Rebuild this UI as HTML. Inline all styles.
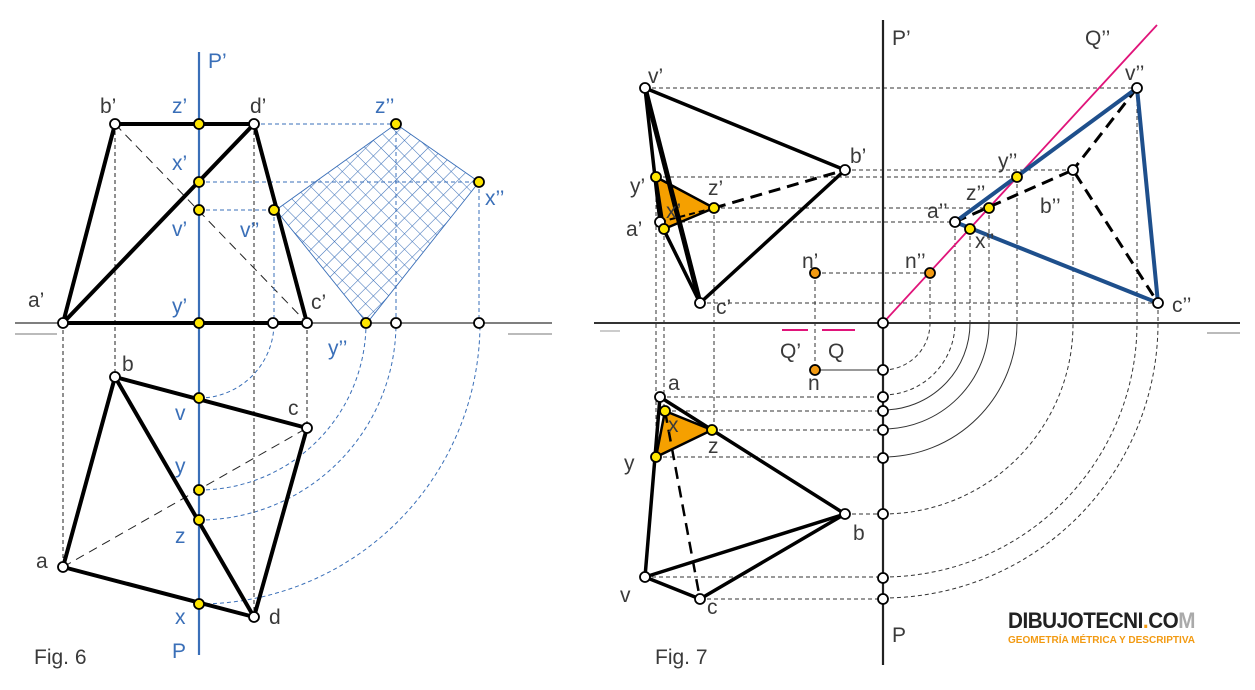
<!DOCTYPE html>
<html><head><meta charset="utf-8"><style>
html,body{margin:0;padding:0;background:#fff}
svg{display:block}
text{font-family:"Liberation Sans",sans-serif;font-weight:300}
.l{fill:#3a3a3a;font-size:21px}
.b{fill:#3a6fb8;font-size:21px}
</style></head><body>
<svg width="1255" height="690" viewBox="0 0 1255 690" xmlns="http://www.w3.org/2000/svg">
<defs>
<pattern id="h" width="11" height="11" patternUnits="userSpaceOnUse" patternTransform="rotate(45)">
<path d="M0 0H11M0 0V11" stroke="#3a6fb8" stroke-width="1.1" fill="none"/>
</pattern>
</defs>

<!-- ===== FIG 6 ===== -->
<line x1="15" y1="323" x2="552" y2="323" stroke="#555" stroke-width="1.5"/>
<line x1="15" y1="334" x2="57" y2="334" stroke="#777" stroke-width="1"/>
<line x1="508" y1="334" x2="552" y2="334" stroke="#777" stroke-width="1"/>
<polygon points="396,124 479,182 367,323 276,210" fill="url(#h)" stroke="#3a6fb8" stroke-width="0.9"/>
<g stroke="#222" stroke-width="1" stroke-dasharray="4,3" fill="none">
<line x1="63" y1="323" x2="63" y2="567"/>
<line x1="115" y1="124" x2="115" y2="377"/>
<line x1="254" y1="124" x2="254" y2="617"/>
<line x1="307" y1="323" x2="307" y2="428"/>
</g>
<g stroke="#222" stroke-width="1" stroke-dasharray="9,6" fill="none">
<line x1="115" y1="124" x2="307" y2="323"/>
<line x1="63" y1="567" x2="307" y2="428"/>
</g>
<g stroke="#3a6fb8" stroke-width="1" stroke-dasharray="4,3" fill="none">
<line x1="254" y1="124" x2="396" y2="124"/>
<line x1="199" y1="182" x2="479" y2="182"/>
<line x1="199" y1="210" x2="274" y2="210"/>
<line x1="274" y1="210" x2="274" y2="323"/>
<line x1="396" y1="124" x2="396" y2="323"/>
<line x1="479" y1="182" x2="479" y2="323"/>
<path d="M199,398 A75,75 0 0 0 274,323"/>
<path d="M199,490 A167,167 0 0 0 366,323"/>
<path d="M199,520 A197,197 0 0 0 396,323"/>
<path d="M199,604 A281,281 0 0 0 480,323"/>
</g>
<line x1="199" y1="52" x2="199" y2="655" stroke="#3a6fb8" stroke-width="2.2"/>
<g stroke="#000" stroke-width="4" fill="none" stroke-linejoin="round">
<polyline points="63,323 115,124 254,124 307,323 63,323 254,124"/>
<polygon points="63,567 115,377 307,428 254,617"/>
<line x1="115" y1="377" x2="254" y2="617"/>
</g>
<g stroke="#000" stroke-width="1.8" fill="#fff">
<circle cx="63" cy="323" r="5"/><circle cx="115" cy="124" r="5"/><circle cx="254" cy="124" r="5"/><circle cx="307" cy="323" r="5"/>
<circle cx="273" cy="323" r="5"/><circle cx="396" cy="323" r="5"/><circle cx="479" cy="323" r="5"/>
<circle cx="63" cy="567" r="5"/><circle cx="115" cy="377" r="5"/><circle cx="307" cy="428" r="5"/><circle cx="254" cy="617" r="5"/>
</g>
<g stroke="#000" stroke-width="1.8" fill="#ffe600">
<circle cx="199" cy="124" r="5"/><circle cx="199" cy="182" r="5"/><circle cx="199" cy="210" r="5"/><circle cx="199" cy="323" r="5"/>
<circle cx="274" cy="210" r="5"/><circle cx="396" cy="124" r="5"/><circle cx="479" cy="182" r="5"/><circle cx="366" cy="323" r="5"/>
<circle cx="199" cy="398" r="5"/><circle cx="199" cy="490" r="5"/><circle cx="199" cy="520" r="5"/><circle cx="199" cy="604" r="5"/>
</g>
<text class="l" x="100" y="113">b’</text>
<text class="l" x="250" y="113">d’</text>
<text class="l" x="28" y="307">a’</text>
<text class="l" x="311" y="309">c’</text>
<text class="l" x="122" y="371">b</text>
<text class="l" x="288" y="415">c</text>
<text class="l" x="36" y="568">a</text>
<text class="l" x="269" y="624">d</text>
<text class="b" x="208" y="68">P’</text>
<text class="b" x="172" y="113">z’</text>
<text class="b" x="172" y="170">x’</text>
<text class="b" x="172" y="236">v’</text>
<text class="b" x="172" y="313">y’</text>
<text class="b" x="240" y="237">v’’</text>
<text class="b" x="375" y="113">z’’</text>
<text class="b" x="485" y="205">x’’</text>
<text class="b" x="328" y="355">y’’</text>
<text class="b" x="175" y="420">v</text>
<text class="b" x="175" y="473">y</text>
<text class="b" x="175" y="543">z</text>
<text class="b" x="175" y="624">x</text>
<text class="b" x="172" y="658" font-size="24">P</text>
<text class="l" x="34" y="664" font-size="20" fill="#444">Fig. 6</text>

<!-- ===== FIG 7 ===== -->
<line x1="594" y1="323" x2="1240" y2="323" stroke="#333" stroke-width="2"/>
<line x1="600" y1="331" x2="620" y2="331" stroke="#999" stroke-width="1"/>
<line x1="1207" y1="333" x2="1240" y2="333" stroke="#777" stroke-width="1"/>
<g stroke="#333" stroke-width="1" stroke-dasharray="4,3" fill="none">
<line x1="645" y1="88" x2="1137" y2="88"/>
<line x1="845" y1="170" x2="1073" y2="170"/>
<line x1="660" y1="222" x2="955" y2="222"/>
<line x1="700" y1="303" x2="1158" y2="303"/>
<line x1="815" y1="273" x2="930" y2="273"/>
<line x1="656" y1="177" x2="1017" y2="177"/>
<line x1="714" y1="208" x2="989" y2="208"/>
<line x1="656" y1="177" x2="656" y2="457"/>
<line x1="664" y1="229" x2="664" y2="411"/>
<line x1="714" y1="208" x2="714" y2="430"/>
<line x1="815" y1="273" x2="815" y2="370"/>
<line x1="930" y1="273" x2="930" y2="323"/>
<line x1="955" y1="222" x2="955" y2="323"/>
<line x1="970" y1="229" x2="970" y2="323"/>
<line x1="989" y1="208" x2="989" y2="323"/>
<line x1="1017" y1="177" x2="1017" y2="323"/>
<line x1="1073" y1="170" x2="1073" y2="323"/>
<line x1="1137" y1="88" x2="1137" y2="323"/>
<line x1="1158" y1="303" x2="1158" y2="323"/>
<line x1="660" y1="397" x2="883" y2="397"/>
<line x1="665" y1="411" x2="883" y2="411"/>
<line x1="712" y1="430" x2="883" y2="430"/>
<line x1="656" y1="457" x2="883" y2="457"/>
<line x1="845" y1="514" x2="883" y2="514"/>
<line x1="645" y1="577" x2="883" y2="577"/>
<line x1="700" y1="599" x2="883" y2="599"/>
<path d="M883,370 A47,47 0 0 0 930,323"/>
<path d="M883,395 A72,72 0 0 0 955,323"/>
<path d="M883,514 A190,190 0 0 0 1073,323"/>
<path d="M883,577 A254,254 0 0 0 1137,323"/>
<path d="M883,598 A275,275 0 0 0 1158,323"/>
</g>
<g stroke="#333" stroke-width="1" fill="none">
<path d="M883,410 A87,87 0 0 0 970,323"/>
<path d="M883,429 A106,106 0 0 0 989,323"/>
<path d="M883,457 A134,134 0 0 0 1017,323"/>
<line x1="815" y1="370" x2="883" y2="370"/>
</g>
<line x1="883" y1="20" x2="883" y2="665" stroke="#222" stroke-width="2.2"/>
<line x1="883" y1="323" x2="1157" y2="25" stroke="#e0147a" stroke-width="1.8"/>
<line x1="782" y1="330" x2="808" y2="330" stroke="#e0147a" stroke-width="2"/>
<line x1="822" y1="330" x2="855" y2="330" stroke="#e0147a" stroke-width="2"/>
<polygon points="656,177 714,208 664,229" fill="#f5a000" stroke="#000" stroke-width="2.5"/>
<polygon points="665,411 712,430 656,457" fill="#f5a000" stroke="#000" stroke-width="2.5"/>
<g stroke="#000" fill="none" stroke-linejoin="round">
<polyline points="645,88 845,170 700,303 660,222 645,88" stroke-width="3.5"/>
<line x1="645" y1="88" x2="700" y2="303" stroke-width="5"/>
<line x1="714" y1="208" x2="845" y2="170" stroke-width="3" stroke-dasharray="12,7"/>
<line x1="660" y1="222" x2="714" y2="208" stroke-width="2" stroke-dasharray="6,4"/>
<polyline points="660,397 845,514 700,599 645,577 660,397" stroke-width="3.5"/>
<line x1="645" y1="577" x2="845" y2="514" stroke-width="3.5"/>
<line x1="665" y1="411" x2="700" y2="599" stroke-width="2.5" stroke-dasharray="12,7"/>
<polyline points="955,222 1073,170 1158,303" stroke-width="3" stroke-dasharray="12,7"/>
<line x1="1137" y1="88" x2="1073" y2="170" stroke-width="3" stroke-dasharray="12,7"/>
</g>
<g stroke="#1e4f8c" stroke-width="4" fill="none" stroke-linejoin="round">
<polygon points="955,222 1137,88 1158,303"/>
</g>
<g stroke="#000" stroke-width="1.8" fill="#fff">
<circle cx="645" cy="88" r="5"/><circle cx="845" cy="170" r="5"/><circle cx="660" cy="222" r="5"/><circle cx="700" cy="303" r="5"/>
<circle cx="1137" cy="88" r="5"/><circle cx="1073" cy="170" r="5"/><circle cx="955" cy="222" r="5"/><circle cx="1158" cy="303" r="5"/>
<circle cx="883" cy="323" r="5"/>
<circle cx="660" cy="397" r="5"/><circle cx="845" cy="514" r="5"/><circle cx="700" cy="599" r="5"/><circle cx="645" cy="577" r="5"/>
<circle cx="883" cy="370" r="5"/><circle cx="883" cy="397" r="5"/><circle cx="883" cy="411" r="5"/><circle cx="883" cy="430" r="5"/>
<circle cx="883" cy="458" r="5"/><circle cx="883" cy="514" r="5"/><circle cx="883" cy="578" r="5"/><circle cx="883" cy="599" r="5"/>
</g>
<g stroke="#000" stroke-width="1.8" fill="#ffe600">
<circle cx="656" cy="177" r="5"/><circle cx="714" cy="208" r="5"/><circle cx="664" cy="229" r="5"/>
<circle cx="1017" cy="177" r="5"/><circle cx="989" cy="208" r="5"/><circle cx="970" cy="229" r="5"/>
<circle cx="665" cy="411" r="5"/><circle cx="712" cy="430" r="5"/><circle cx="656" cy="457" r="5"/>
</g>
<g stroke="#000" stroke-width="1.8" fill="#f29a12">
<circle cx="815" cy="273" r="5"/><circle cx="930" cy="273" r="5"/><circle cx="815" cy="370" r="5"/>
</g>
<g>
<text class="l" x="892" y="45" font-size="24">P’</text>
<text class="l" x="1085" y="45">Q’’</text>
<text class="l" x="1125" y="80">v’’</text>
<text class="l" x="998" y="168">y’’</text>
<text class="l" x="966" y="200">z’’</text>
<text class="l" x="927" y="218">a’’</text>
<text class="l" x="1040" y="213">b’’</text>
<text class="l" x="975" y="248">x’’</text>
<text class="l" x="1172" y="312">c’’</text>
<text class="l" x="905" y="268">n’’</text>
<text class="l" x="802" y="268">n’</text>
<text class="l" x="648" y="83">v’</text>
<text class="l" x="850" y="163">b’</text>
<text class="l" x="630" y="193">y’</text>
<text class="l" x="708" y="195">z’</text>
<text class="l" x="626" y="236">a’</text>
<text class="l" x="666" y="218" font-size="17">x’</text>
<text class="l" x="716" y="314">c’</text>
<text class="l" x="780" y="358">Q’</text>
<text class="l" x="828" y="358">Q</text>
<text class="l" x="808" y="390">n</text>
<text class="l" x="668" y="390">a</text>
<text class="l" x="668" y="432">x</text>
<text class="l" x="708" y="453">z</text>
<text class="l" x="624" y="470">y</text>
<text class="l" x="853" y="540">b</text>
<text class="l" x="620" y="602">v</text>
<text class="l" x="707" y="614">c</text>
<text class="l" x="892" y="642" font-size="24">P</text>
<text class="l" x="655" y="664" font-size="20" fill="#444">Fig. 7</text>
</g>
<text x="1008" y="628" font-size="22" fill="#222" style="font-family:'Liberation Sans',sans-serif;font-weight:bold;letter-spacing:-0.5px" textLength="187" lengthAdjust="spacingAndGlyphs">DIBUJOTECNI<tspan fill="#f29a12">.</tspan>CO<tspan fill="#aaa">M</tspan></text>
<text x="1008" y="643" font-size="10" fill="#f29a12" style="font-family:'Liberation Sans',sans-serif;font-weight:bold" textLength="187" lengthAdjust="spacingAndGlyphs">GEOMETRÍA MÉTRICA Y DESCRIPTIVA</text>
</svg>
</body></html>
